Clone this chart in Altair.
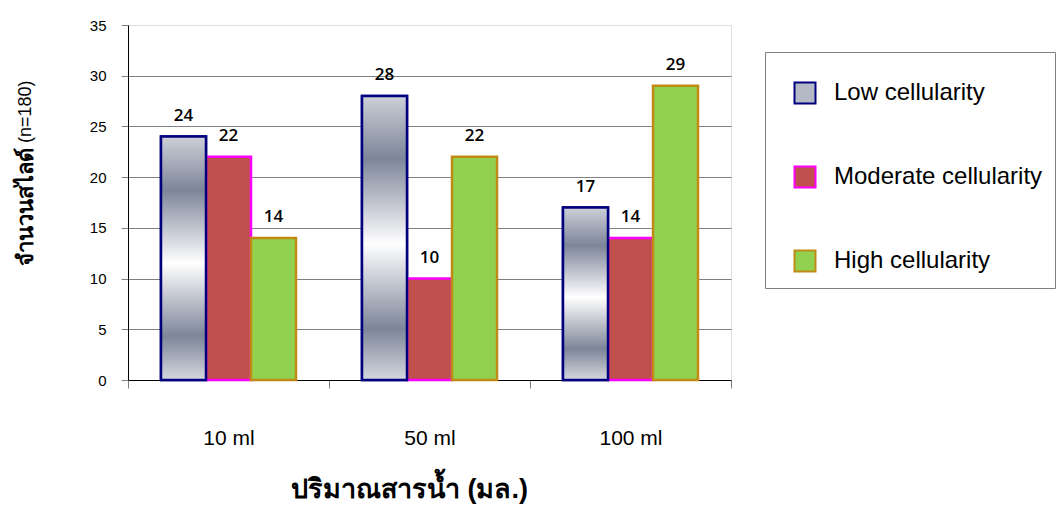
import altair as alt
import pandas as pd

groups = ["10 ml", "50 ml", "100 ml"]
series = ["Low cellularity", "Moderate cellularity", "High cellularity"]
low = [24, 28, 17]
moderate = [22, 10, 14]
high = [14, 22, 29]

rows = []
for i, g in enumerate(groups):
    for s, vals in zip(series, [low, moderate, high]):
        rows.append({"group": g, "series": s, "value": vals[i]})
df = pd.DataFrame(rows)

fills = ["#B4B9C5", "#C0504D", "#92D050"]
strokes = ["#00007F", "#FF00FF", "#C08A14"]
y_ticks = [0, 5, 10, 15, 20, 25, 30, 35]

x_enc = alt.X(
    "group:N", sort=groups,
    scale=alt.Scale(domain=groups, paddingInner=0, paddingOuter=0),
    axis=alt.Axis(
        title="ปริมาณสารน้ำ (มล.)", labelAngle=0, labelFontSize=21,
        labelFont="Liberation Sans", labelColor="#000000", labelBaseline="top",
        labelPadding=39, tickBand="extent", tickSize=8, tickColor="#808080",
        domainColor="#000000", grid=False,
        titleFontSize=27, titleFontWeight="bold", titleColor="#000000",
        titleX=281, titleY=117, titleBaseline="alphabetic", titleAlign="center",
        titleAnchor="start",
    ),
)
xoff_enc = alt.XOffset(
    "series:N", sort=series,
    scale=alt.Scale(domain=series, paddingInner=0, paddingOuter=0.733),
)
y_enc = alt.Y(
    "value:Q",
    scale=alt.Scale(domain=[0, 35], nice=False),
    axis=alt.Axis(
        title=None, values=y_ticks, labelFontSize=15, labelFont="Liberation Sans",
        labelColor="#000000", labelPadding=15, tickSize=7, tickColor="#808080",
        domainColor="#000000", grid=True, gridColor="#808080",
        gridOpacity=alt.condition("datum.value == 35 || datum.value == 0", alt.value(0), alt.value(1)),
    ),
)

legend = alt.Legend(
    title=" ", titleFontSize=8, titlePadding=9, orient="none", legendX=637, legendY=27,
    strokeColor="#808080", padding=12, symbolOffset=16, symbolType="square",
    symbolSize=441, symbolStrokeWidth=2, labelFontSize=24, labelFont="Liberation Sans",
    labelColor="#000000", labelOffset=17, rowPadding=54, labelLimit=400,
)

bars = alt.Chart(df).mark_bar(strokeWidth=2.5).encode(
    x=x_enc, xOffset=xoff_enc, y=y_enc,
    fill=alt.Fill("series:N", sort=series, scale=alt.Scale(domain=series, range=fills), legend=legend),
    stroke=alt.Stroke("series:N", sort=series, scale=alt.Scale(domain=series, range=strokes), legend=legend),
)

silver = alt.Gradient(
    gradient="linear", x1=0, y1=0, x2=0, y2=1,
    stops=[
        alt.GradientStop(offset=0.0, color="#CDD0D8"),
        alt.GradientStop(offset=0.22, color="#7D8599"),
        alt.GradientStop(offset=0.52, color="#FFFFFF"),
        alt.GradientStop(offset=0.82, color="#7D8599"),
        alt.GradientStop(offset=1.0, color="#D5D8DF"),
    ],
)

low_bars = alt.Chart(df).transform_filter(
    alt.datum.series == "Low cellularity"
).mark_bar(fill=silver, stroke="#00007F", strokeWidth=2.5).encode(
    x=x_enc, xOffset=xoff_enc, y=y_enc,
)

labels = alt.Chart(df).mark_text(
    dy=-16, baseline="alphabetic", align="center", fontSize=17, font="Open Sans",
    fontWeight=600, color="#000000",
).encode(x=x_enc, xOffset=xoff_enc, y=y_enc, text="value:Q")

ytitle_df = pd.DataFrame({"main": ["จำนวนสไลด์"], "extra": ["(n=180)"]})
ytitle_main = alt.Chart(ytitle_df).mark_text(
    angle=270, align="right", baseline="middle", fontSize=22, fontWeight="bold",
    font="Liberation Sans", color="#000000",
).encode(text="main:N", x=alt.value(-102), y=alt.value(123))
ytitle_extra = alt.Chart(ytitle_df).mark_text(
    angle=270, align="left", baseline="middle", fontSize=18,
    font="Liberation Sans", color="#000000",
).encode(text="extra:N", x=alt.value(-102), y=alt.value(118))

chart = alt.layer(bars, low_bars, labels, ytitle_main, ytitle_extra).properties(
    width=603, height=355,
    autosize=alt.AutoSizeParams(type="none"),
    padding={"left": 128, "top": 25, "right": 326, "bottom": 129},
).configure_view(stroke=None).configure(font="Liberation Sans", background="#FFFFFF")

chart.save("out.html", embed_options={"renderer": "svg", "actions": False})
